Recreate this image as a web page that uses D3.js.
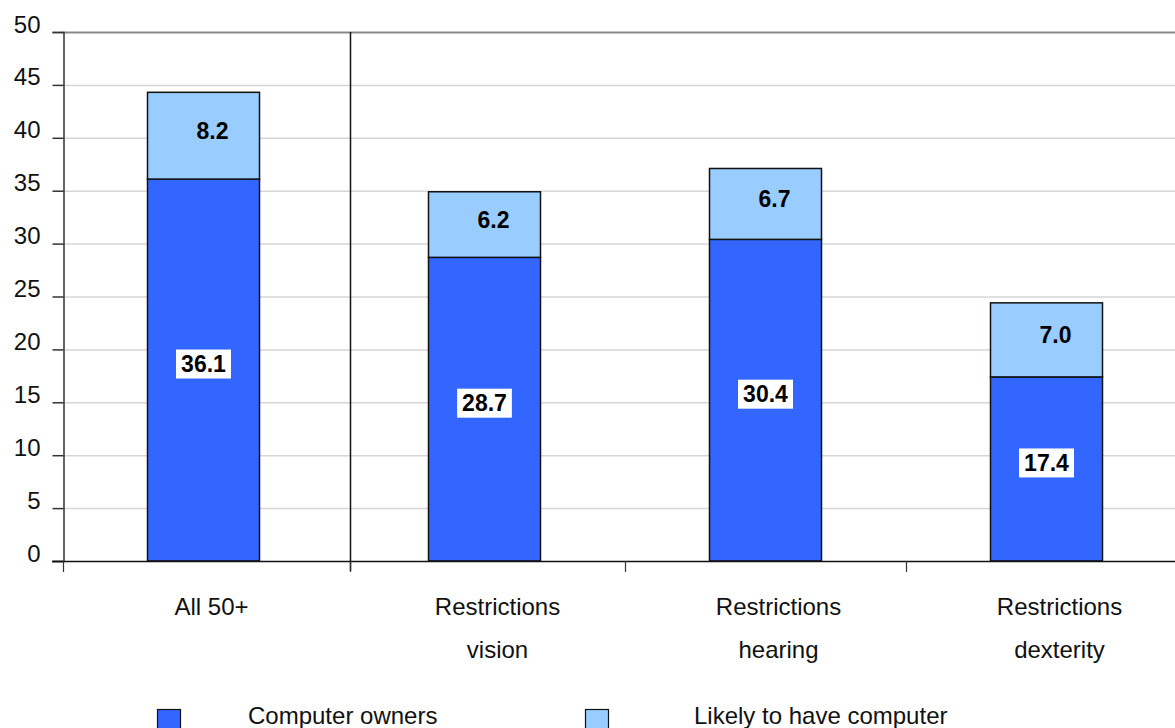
<!DOCTYPE html>
<html>
<head>
<meta charset="utf-8">
<script src="https://cdn.jsdelivr.net/npm/d3@7"></script>
<style>
  html, body { margin: 0; padding: 0; background: #fff; }
  svg { display: block; font-family: "Liberation Sans", Arial, sans-serif; }
</style>
</head>
<body>
<svg id="chart" width="1175" height="728"></svg>
<script>
// Category labels, one entry per line of the axis label
const categories = ["All 50+", "Restrictions vision", "Restrictions hearing", "Restrictions dexterity"];
const categoryLines = [["All 50+"], ["Restrictions", "vision"], ["Restrictions", "hearing"], ["Restrictions", "dexterity"]];

// Percentages per group
const computerOwners = [36.1, 28.7, 30.4, 17.4];
const likelyToHave = [8.2, 6.2, 6.7, 7.0];

const seriesNames = ["Computer owners", "Likely to have computer"];
const seriesColors = ["#3366FF", "#99CCFF"];
const yTicks = [0, 5, 10, 15, 20, 25, 30, 35, 40, 45, 50];

const svg = d3.select("#chart");
const W = 1175, H = 728;
const plot = { left: 63, top: 32, bottom: 561, right: 1187 };

const x = d3.scaleBand().domain(categories).range([plot.left, plot.right]).padding(0);
const y = d3.scaleLinear().domain([0, 50]).range([plot.bottom, plot.top]);

const rows = categories.map((c, i) => ({ cat: c, owners: computerOwners[i], likely: likelyToHave[i] }));
const stacked = d3.stack().keys(["owners", "likely"])(rows);

// Gridlines
svg.append("g").selectAll("line")
  .data(yTicks.filter(t => t > 0))
  .join("line")
  .attr("x1", plot.left).attr("x2", W)
  .attr("y1", d => y(d) + 0.5).attr("y2", d => y(d) + 0.5)
  .attr("stroke", d => d === 50 ? "#8a8a8a" : "#d6d6d6")
  .attr("stroke-width", d => d === 50 ? 2 : 1.5);

// Separator between the overall group and the restriction groups
const sepX = x(categories[1]) + 6;
svg.append("line")
  .attr("x1", sepX + 0.5).attr("x2", sepX + 0.5)
  .attr("y1", plot.top).attr("y2", plot.bottom + 10)
  .attr("stroke", "#111").attr("stroke-width", 1.5);

// Stacked bars
const barOff = x.bandwidth() * 0.3, barW = x.bandwidth() * 0.4;
svg.append("g").selectAll("g")
  .data(stacked)
  .join("g")
  .attr("fill", (d, i) => seriesColors[i])
  .selectAll("rect")
  .data(d => d)
  .join("rect")
  .attr("x", d => Math.round(x(d.data.cat) + barOff) + 0.5)
  .attr("width", Math.round(barW))
  .attr("y", d => y(d[1]))
  .attr("height", d => y(d[0]) - y(d[1]))
  .attr("stroke", "#111").attr("stroke-width", 1.5);

// Y axis
const yAxis = svg.append("g")
  .attr("transform", `translate(${plot.left + 0.5},0)`)
  .call(d3.axisLeft(y).tickValues(yTicks).tickSize(11).tickPadding(12).tickFormat(d3.format("d")));
yAxis.select(".domain").attr("stroke", "#333").attr("stroke-width", 1.5);
yAxis.selectAll(".tick line").attr("stroke", "#333").attr("stroke-width", 1.5);
yAxis.selectAll(".tick text")
  .attr("font-size", 24).attr("fill", "#111")
  .attr("font-family", "'Liberation Sans', Arial, sans-serif")
  .attr("dy", "0.0em");

// X axis line and ticks at group boundaries
svg.append("line")
  .attr("x1", plot.left - 11).attr("x2", W)
  .attr("y1", plot.bottom + 0.5).attr("y2", plot.bottom + 0.5)
  .attr("stroke", "#111").attr("stroke-width", 1.5);
const boundaries = categories.map((c, i) => i === 1 ? sepX : x(c));
svg.append("g").selectAll("line")
  .data(boundaries)
  .join("line")
  .attr("x1", d => d + 0.5).attr("x2", d => d + 0.5)
  .attr("y1", plot.bottom).attr("y2", plot.bottom + 11)
  .attr("stroke", "#333").attr("stroke-width", 1.2);

// Category labels
const catG = svg.append("g").attr("font-size", 24).attr("fill", "#111").attr("text-anchor", "middle");
categories.forEach((c, i) => {
  categoryLines[i].forEach((line, j) => {
    catG.append("text")
      .attr("x", x(c) + x.bandwidth() / 2 + (i === 0 ? 8 : 13))
      .attr("y", 615 + j * 43)
      .text(line);
  });
});

// Value labels: owners in white boxes, likely offset right
const fmt = d3.format(".1f");
const labelG = svg.append("g").attr("font-size", 23).attr("font-weight", "bold").attr("fill", "#000");
stacked[0].forEach(d => {
  const cx = x(d.data.cat) + x.bandwidth() / 2;
  const cy = (y(d[0]) + y(d[1])) / 2 - 6;
  const t = fmt(d.data.owners);
  const g = labelG.append("g");
  const txt = g.append("text").attr("x", cx).attr("y", cy).attr("dy", "0.36em")
    .attr("text-anchor", "middle").text(t);
  const bb = txt.node().getBBox();
  g.insert("rect", "text")
    .attr("x", cx - bb.width / 2 - 5).attr("y", cy - 14.5)
    .attr("width", bb.width + 10).attr("height", 29)
    .attr("fill", "#fff");
});
stacked[1].forEach(d => {
  const cx = x(d.data.cat) + x.bandwidth() / 2 + 9;
  const cy = (y(d[0]) + y(d[1])) / 2 - 5;
  labelG.append("text").attr("x", cx).attr("y", cy).attr("dy", "0.36em")
    .attr("text-anchor", "middle").text(fmt(d.data.likely));
});

// Legend
const legendX = [157, 585], legendTextX = [248, 694];
seriesNames.forEach((name, i) => {
  svg.append("rect")
    .attr("x", legendX[i] + 0.5).attr("y", 709.5)
    .attr("width", 23).attr("height", 23)
    .attr("fill", seriesColors[i]).attr("stroke", "#111").attr("stroke-width", 1.2);
  svg.append("text")
    .attr("x", legendTextX[i]).attr("y", 724)
    .attr("font-size", 24).attr("fill", "#111")
    .text(name);
});
</script>
</body>
</html>
